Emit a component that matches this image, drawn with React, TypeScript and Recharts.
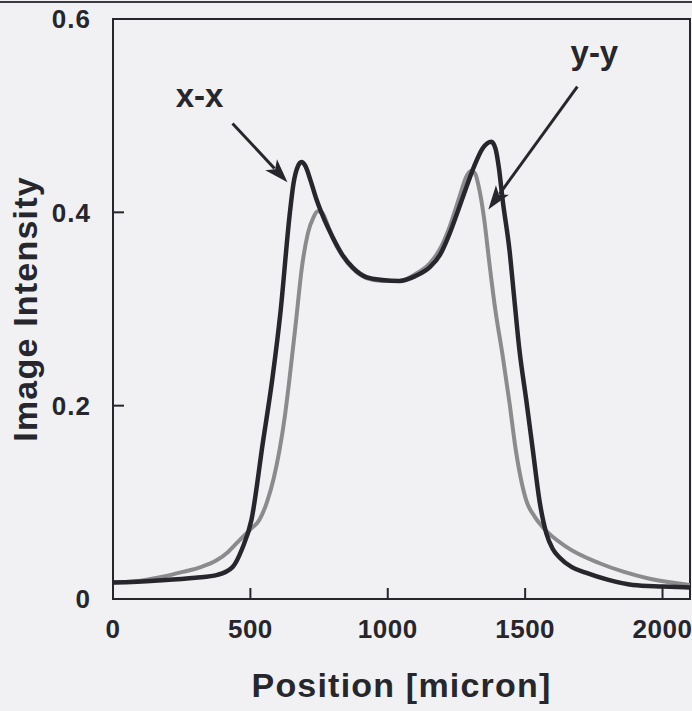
import React from 'react';
import { LineChart, Line, XAxis, YAxis, ReferenceArea, ReferenceLine, ReferenceDot } from 'recharts';

const xTicks = [0, 500, 1000, 1500, 2000];
const yTicks = [0, 0.2, 0.4, 0.6];
const yTickLabels = ['0', '0.2', '0.4', '0.6'];

const xxPos = [0,150,300,380,435,470,504,545,580,610,642,657,672,686,700,720,741,770,800,835,872,922,980,1043,1100,1152,1190,1225,1256,1286,1315,1345,1377,1392,1405,1418,1443,1461,1479,1504,1528,1552,1577,1600,1625,1670,1723,1800,1892,2000,2100];
const xxVal = [0.017,0.019,0.022,0.025,0.033,0.052,0.082,0.161,0.228,0.298,0.395,0.430,0.447,0.452,0.448,0.432,0.413,0.392,0.374,0.356,0.343,0.333,0.330,0.329,0.334,0.343,0.356,0.378,0.402,0.426,0.448,0.466,0.473,0.466,0.445,0.413,0.361,0.309,0.258,0.206,0.154,0.102,0.068,0.052,0.043,0.033,0.027,0.020,0.0145,0.013,0.012];

const yyPos = [0,100,180,254,320,377,420,461,500,533,560,585,606,625,640,667,687,709,730,745,760,780,800,835,872,922,980,1043,1100,1152,1190,1225,1261,1286,1304,1318,1330,1350,1370,1391,1418,1443,1466,1504,1535,1565,1650,1771,1860,1953,2100];
const yyVal = [0.017,0.019,0.023,0.028,0.033,0.040,0.049,0.061,0.072,0.082,0.100,0.125,0.154,0.188,0.222,0.290,0.342,0.378,0.395,0.401,0.400,0.388,0.373,0.355,0.342,0.332,0.329,0.329,0.336,0.347,0.362,0.385,0.416,0.437,0.443,0.440,0.428,0.395,0.347,0.300,0.252,0.203,0.154,0.102,0.085,0.074,0.054,0.037,0.028,0.021,0.0145];

const xxArrow = [{ x: 435, y: 0.492 }, { x: 635, y: 0.431 }];
const yyArrow = [{ x: 1690, y: 0.530 }, { x: 1366, y: 0.403 }];
const xxLabelPos = { x: 315, y: 0.509 };
const yyLabelPos = { x: 1752, y: 0.553 };

const X_DOMAIN: [number, number] = [0, 2100];
const Y_DOMAIN: [number, number] = [0, 0.6];

const xxData = xxPos.map((x, i) => ({ x, v: xxVal[i] }));
const yyData = yyPos.map((x, i) => ({ x, v: yyVal[i] }));

const FONT = '"Liberation Sans", Arial, Helvetica, sans-serif';
const INK = '#26262c';
// inward tick length (~11 px) as a fraction of each axis span
const X_TICK_FRAC = 11 / 580;
const Y_TICK_FRAC = 11 / 577;
const xTickLen = (Y_DOMAIN[1] - Y_DOMAIN[0]) * X_TICK_FRAC;
const yTickLen = (X_DOMAIN[1] - X_DOMAIN[0]) * Y_TICK_FRAC;

const Arrow = (p: any) => {
  const { x1, y1, x2, y2 } = p;
  if ([x1, y1, x2, y2].some((v) => typeof v !== 'number' || isNaN(v))) return null;
  const dx = x2 - x1, dy = y2 - y1;
  const L = Math.hypot(dx, dy);
  const ux = dx / L, uy = dy / L;
  const hl = 24, hw = 8;
  const bx = x2 - ux * hl, by = y2 - uy * hl;
  const pts = `${x2},${y2} ${bx - uy * hw},${by + ux * hw} ${bx + ux * 6},${by + uy * 6} ${bx + uy * hw},${by - ux * hw}`;
  return (
    <g>
      <line x1={x1} y1={y1} x2={bx + ux * 5} y2={by + uy * 5} stroke={INK} strokeWidth={3} />
      <polygon points={pts} fill={INK} />
    </g>
  );
};

const TickMark = (p: any) => {
  const { x1, y1, x2, y2 } = p;
  if ([x1, y1, x2, y2].some((v) => typeof v !== 'number' || isNaN(v))) return null;
  return <line x1={x1} y1={y1} x2={x2} y2={y2} stroke={INK} strokeWidth={2} />;
};

const makeText = (txt: string) => (p: any) => (
  <text x={p.cx} y={p.cy} textAnchor="middle" fontFamily={FONT} fontWeight="bold" fontSize={33} fill={INK}>
    {txt}
  </text>
);

const XTitle = (p: any) => {
  const vb = p.viewBox || {};
  return (
    <text x={vb.x + vb.width / 2} y={vb.y + 98} textAnchor="middle" fontFamily={FONT} fontWeight="bold" fontSize={34} letterSpacing={1.2} fill={INK}>
      Position [micron]
    </text>
  );
};

const YTitle = (p: any) => {
  const vb = p.viewBox || {};
  const cy = vb.y + vb.height / 2;
  return (
    <text transform={`translate(37,${cy}) rotate(-90)`} textAnchor="middle" fontFamily={FONT} fontWeight="bold" fontSize={34} letterSpacing={1.2} fill={INK}>
      Image Intensity
    </text>
  );
};

export default function App() {
  return (
    <div style={{ position: 'absolute', left: 0, top: 0, width: 692, height: 711, background: '#f1f1f3', overflow: 'hidden' }}>
      <div style={{ position: 'absolute', left: 0, top: 1, width: 692, height: 2, background: '#3a3a40' }} />
      <LineChart width={692} height={711} margin={{ top: 19, right: 2, bottom: 0, left: 0 }}>
        <XAxis
          type="number"
          dataKey="x"
          domain={X_DOMAIN}
          ticks={xTicks}
          allowDataOverflow
          height={112}
          tickSize={0}
          tickLine={false}
          tickMargin={21}
          stroke={INK}
          strokeWidth={2}
          tick={{ fontFamily: FONT, fontWeight: 'bold', fontSize: 26, fill: INK, letterSpacing: 0.5 }}
          label={<XTitle />}
        />
        <YAxis
          type="number"
          domain={Y_DOMAIN}
          ticks={yTicks}
          allowDataOverflow
          width={113}
          tickSize={0}
          tickLine={false}
          tickMargin={22}
          stroke={INK}
          strokeWidth={2}
          tickFormatter={(v: number) => { const i = yTicks.indexOf(v); return i >= 0 ? yTickLabels[i] : String(v); }}
          tick={{ fontFamily: FONT, fontWeight: 'bold', fontSize: 26, fill: INK, letterSpacing: 1 }}
          label={<YTitle />}
        />
        <ReferenceArea x1={X_DOMAIN[0]} x2={X_DOMAIN[1]} y1={Y_DOMAIN[0]} y2={Y_DOMAIN[1]} stroke={INK} strokeWidth={2} fill="none" fillOpacity={0} />
        {xTicks.map((t) => (
          <ReferenceLine key={`xt${t}`} segment={[{ x: t, y: Y_DOMAIN[0] }, { x: t, y: Y_DOMAIN[0] + xTickLen }]} shape={TickMark} />
        ))}
        {yTicks.map((t) => (
          <ReferenceLine key={`yt${t}`} segment={[{ x: X_DOMAIN[0], y: t }, { x: X_DOMAIN[0] + yTickLen, y: t }]} shape={TickMark} />
        ))}
        <Line data={yyData} dataKey="v" type="monotone" stroke="#8b8b8e" strokeWidth={4} dot={false} isAnimationActive={false} />
        <Line data={xxData} dataKey="v" type="monotone" stroke={INK} strokeWidth={4.5} dot={false} isAnimationActive={false} />
        <ReferenceLine segment={xxArrow} shape={Arrow} />
        <ReferenceLine segment={yyArrow} shape={Arrow} />
        <ReferenceDot x={xxLabelPos.x} y={xxLabelPos.y} r={0} shape={makeText('x-x')} />
        <ReferenceDot x={yyLabelPos.x} y={yyLabelPos.y} r={0} shape={makeText('y-y')} />
      </LineChart>
    </div>
  );
}
